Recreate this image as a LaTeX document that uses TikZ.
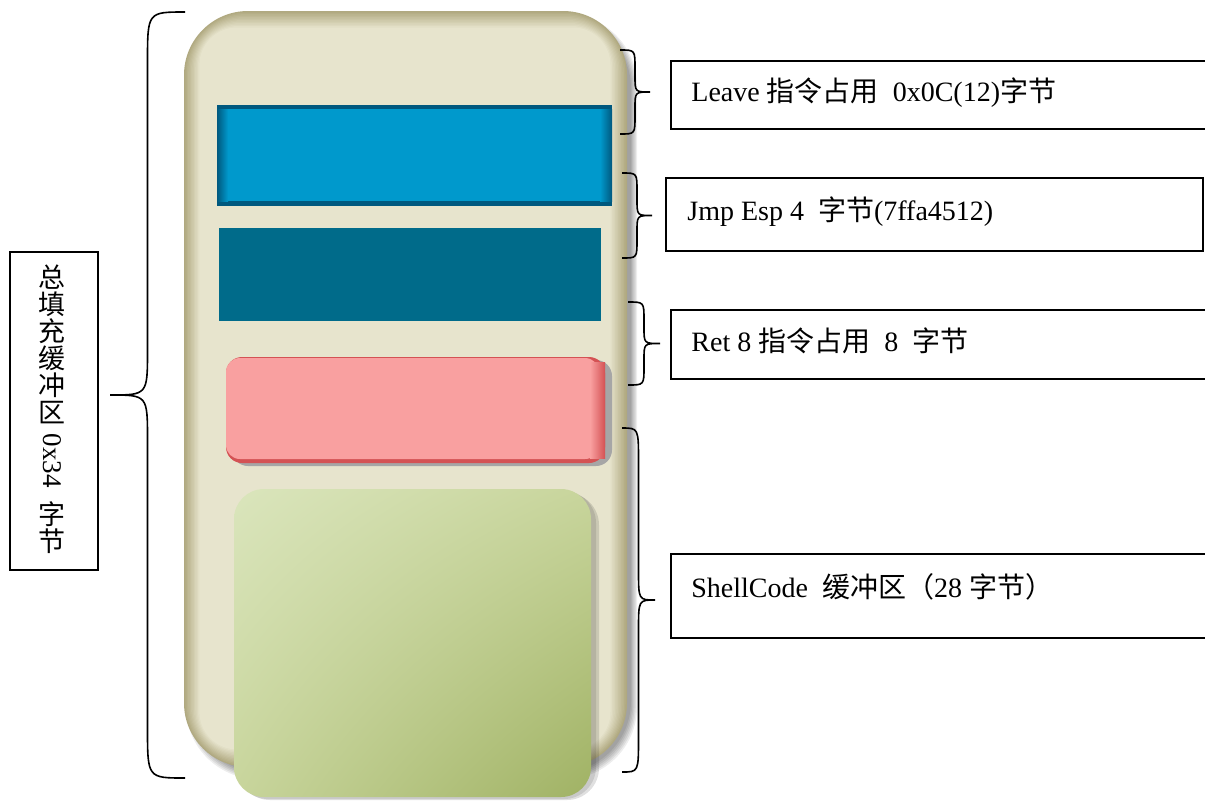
\documentclass[tikz,border=0pt]{standalone}
\usepackage{fontspec}
\setmainfont{Liberation Serif}
\newfontfamily\cjk{Noto Sans CJK SC}
\usepackage{graphicx}
\usetikzlibrary{shadings}
\definecolor{cbeige}{RGB}{231,228,205}
\definecolor{colive}{RGB}{176,169,128}
\definecolor{cblue}{RGB}{0,153,204}
\definecolor{cbluedark}{RGB}{0,88,126}
\definecolor{cteal}{RGB}{0,107,138}
\definecolor{cpink}{RGB}{249,160,160}
\definecolor{cpinkdark}{RGB}{212,82,84}
\definecolor{cgreenA}{RGB}{218,229,188}
\definecolor{cgreenB}{RGB}{200,213,156}
\definecolor{cgreenC}{RGB}{160,178,100}
\newcommand{\curlybrace}[6]{%
  \draw[bracestyle] ({#1},{#2}) .. controls ({#1+0.5*(#4)},{#2}) .. ({#1+0.5*(#4)},{#2+#5})
   -- ({#1+0.5*(#4)},{(#2+#3)/2-#6}) .. controls ({#1+0.5*(#4)},{(#2+#3)/2}) .. ({#1+(#4)},{(#2+#3)/2})
   .. controls ({#1+0.5*(#4)},{(#2+#3)/2}) .. ({#1+0.5*(#4)},{(#2+#3)/2+#6})
   -- ({#1+0.5*(#4)},{#3-#5}) .. controls ({#1+0.5*(#4)},{#3}) .. ({#1},{#3});}
\begin{document}
\begin{tikzpicture}[x=0.5pt,y=-0.5pt,
  bracestyle/.style={draw=black,line width=0.8pt},
  txtbox/.style={draw=black,line width=1pt,fill=white,anchor=north west,inner sep=0pt},
  lbl/.style={anchor=west,inner sep=0pt,font=\fontsize{14}{16}\selectfont}]
\useasboundingbox (0,0) rectangle (1205,800);
\fill[white] (0,0) rectangle (1205,800);
% container shadow
\foreach \i in {0,...,5}{
  \fill[black,opacity=0.07,rounded corners=36] ({186+\i},{14+\i*0.5}) rectangle ({637-\i*1.2},{779-\i*1.2});
}
% container body with soft edges
\foreach \i in {0,...,14}{
  \pgfmathsetmacro\p{min(100,\i*100/11)}
  \fill[cbeige!\p!colive,rounded corners={max(8,32-\i*1.2)}]
    ({184+\i*1.4},{11+\i*1.5}) rectangle ({627-\i*1.5},{767-\i*1.6});
}
% blue bar
\fill[cbluedark] (217,105) rectangle (612,206);
\fill[cblue] (225,109) rectangle (604,201);
\shade[left color=cbluedark,right color=cblue] (217,109) rectangle (228,201);
\shade[left color=cblue,right color=cbluedark] (600,109) rectangle (612,201);
% teal bar
\fill[cteal] (219,228) rectangle (601,321);
% pink bar
\fill[black!35,rounded corners=8] (232,360) rectangle (612,466);
\fill[cpinkdark,rounded corners=8] (226,357) rectangle (605,463);
\fill[cpink,rounded corners=7] (226,358) rectangle (599,459);
\shade[left color=cpink,right color=cpinkdark] (590,362) rectangle (605,458);
% green box
\fill[black,opacity=0.12,rounded corners=16] (238,493) rectangle (599,800);
\fill[black,opacity=0.10,rounded corners=16] (236,491) rectangle (596,799);
\shade[rounded corners=15,upper left=cgreenA,upper right=cgreenB,lower left=cgreenB,lower right=cgreenC]
  (234,489) rectangle (591,797);
% braces
\curlybrace{185}{12}{778}{-75}{50}{45}
\curlybrace{620}{50}{134}{30}{18}{16}
\curlybrace{622}{173}{258}{30}{18}{16}
\curlybrace{628}{302}{385}{32}{18}{16}
\curlybrace{622}{428}{772}{33}{34}{30}
% right text boxes
\node[txtbox,minimum width=285pt,minimum height=34pt] (b1) at (670,60) {};
\node[txtbox,minimum width=268.5pt,minimum height=36.5pt] (b2) at (665,177) {};
\node[txtbox,minimum width=285pt,minimum height=34.5pt] (b3) at (670,309) {};
\node[txtbox,minimum width=285pt,minimum height=42pt] (b4) at (670,553) {};
\node[lbl] (t1) at (691,93) {Leave {\cjk 指令占用}\ \ 0x0C(12){\cjk 字节}};
\node[lbl] (t2) at (687,212) {Jmp Esp 4\ \ {\cjk 字节}(7ffa4512)};
\node[lbl] (t3) at (691,341) {Ret 8 {\cjk 指令占用}\ \ 8\ \ {\cjk 字节}};
\node[lbl] (t4) at (691,587) {ShellCode\ \ {\cjk 缓冲区（}28 {\cjk 字节）}};
% left vertical box
\node[txtbox,minimum width=44pt,minimum height=159pt] (b0) at (9,251) {};
\node[inner sep=0pt,align=center,font=\fontsize{13.5}{13.5}\selectfont] (t0) at (52,409)
  {{\cjk 总}\\{\cjk 填}\\{\cjk 充}\\{\cjk 缓}\\{\cjk 冲}\\{\cjk 区}\\[4pt]
   \rotatebox[origin=c]{-90}{0x34}\\[6pt]{\cjk 字}\\{\cjk 节}};
\end{tikzpicture}
\end{document}
